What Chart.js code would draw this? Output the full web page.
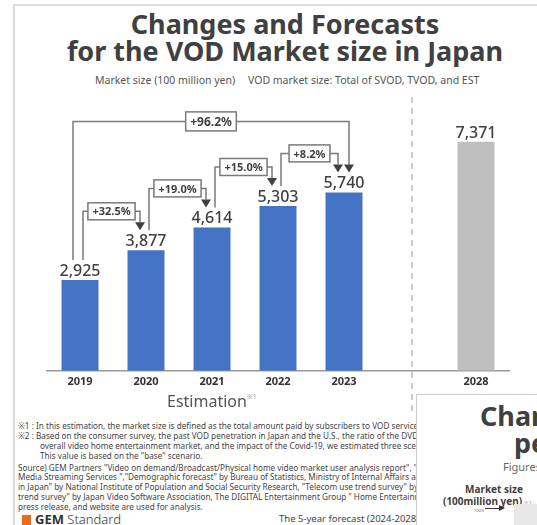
<!DOCTYPE html>
<html>
<head>
<meta charset="utf-8">
<script src="https://cdn.jsdelivr.net/npm/chart.js@4.4.1/dist/chart.umd.min.js"></script>
<style>
  body { margin: 0; width: 537px; height: 525px; overflow: hidden; position: relative; background: #fff;
         font-family: "Noto Sans", sans-serif; color: #404040; }
  .frame { position: absolute; left: 13px; top: 4px; width: 600px; height: 600px; border-left: 2px solid #ddd; border-top: 2px solid #ddd; }
  .title { position: absolute; left: 0; width: 570px; top: 10px; text-align: center; font-weight: 700; font-size: 27px; line-height: 27px; color: #404040; }
  .sub { position: absolute; top: 73px; font-size: 10.5px; color: #555; white-space: nowrap; }
  #chart { position: absolute; left: 0; top: 0; }
  .est { position: absolute; left: 167px; top: 390px; font-size: 16px; color: #555; }
  .est sup { font-size: 7px; color: #999; vertical-align: 8px; }
  .notes { position: absolute; left: 18px; top: 421px; font-size: 8.2px; line-height: 9.9px; color: #444; white-space: nowrap; }
  .notes div { height: 9.9px; }
  .notes .ind { padding-left: 22px; }
  .notes div.gap { height: 2px; }
  .logo { position: absolute; left: 22px; top: 510px; font-size: 13px; color: #333; white-space: nowrap; }
  .logo i { display: inline-block; width: 9px; height: 10px; background: #ee6a1f; vertical-align: -1px; margin-right: 4px; }
  .logo span { font-weight: 300; }
  .fc { position: absolute; left: 279px; top: 512px; font-size: 9.5px; color: #444; white-space: nowrap; }
  .card { position: absolute; left: 416px; top: 394px; width: 200px; height: 200px; background: #fff; border: 1.5px solid #ccc; z-index: 2; }
  .card div { position: absolute; white-space: nowrap; }
</style>
</head>
<body>
<div class="frame"></div>
<div class="title">Changes and Forecasts<br>for the VOD Market size in Japan</div>
<div class="sub" style="left:95px">Market size (100 million yen)</div>
<div class="sub" style="left:248px">VOD market size: Total of SVOD, TVOD, and EST</div>
<canvas id="chart" width="537" height="420"></canvas>
<div class="est">Estimation<sup>※1</sup></div>
<div class="notes">
  <div>※1 : In this estimation, the market size is defined as the total amount paid by subscribers to VOD service providers in Japan.</div>
  <div>※2 : Based on the consumer survey, the past VOD penetration in Japan and the U.S., the ratio of the DVD/BD market to the</div>
  <div class="ind">overall video home entertainment market, and the impact of the Covid-19, we estimated three scenarios: base, upside and downside.</div>
  <div class="ind">This value is based on the "base" scenario.</div>
  <div class="gap"></div>
  <div>Source) GEM Partners "Video on demand/Broadcast/Physical home video market user analysis report", "Brand Survey of</div>
  <div>Media Streaming Services ","Demographic forecast" by Bureau of Statistics, Ministry of Internal Affairs and Communications,</div>
  <div>in Japan" by National Institute of Population and Social Security Research, "Telecom use trend survey" by MIC, "Video software</div>
  <div>trend survey" by Japan Video Software Association, The DIGITAL Entertainment Group "  Home Entertainment Report",</div>
  <div>press release, and website are used for analysis.</div>
</div>
<div class="logo"><i></i><b>GEM</b><span> Standard</span></div>
<div class="fc">The 5-year forecast (2024-2028) of the VOD market</div>
<div class="card">
  <div style="left:63px;top:2px;font-size:27px;font-weight:700;color:#404040">Changes and</div>
  <div style="left:97px;top:29px;font-size:27px;font-weight:700;color:#404040">pe</div>
  <div style="left:86px;top:64px;font-size:11px;color:#666">Figures</div>
  <div style="left:48px;top:87px;font-size:10px;font-weight:700;color:#404040">Market size</div>
  <div style="left:26px;top:99px;font-size:10px;font-weight:700;color:#404040">(100million yen)<span style="font-size:6px;color:#999;font-weight:400"> ※1</span></div>
  <div style="left:57px;top:113px;font-size:4px;color:#666">100%</div>
  <div style="left:68px;top:113px;width:16px;height:1px;background:#333"></div>
  <div style="left:82px;top:110px;width:0;height:0;border-left:6px solid #333;border-top:3px solid transparent;border-bottom:3px solid transparent"></div>
  <div style="left:97px;top:109px;width:40px;height:40px;background:#e8e8e8"></div>
</div>

<script>
// values
const years = ['2019', '2020', '2021', '2022', '2023', '', '2028'];
const marketSize = [2925, 3877, 4614, 5303, 5740, null, 7371];
const forecastYears = ['2028'];

// growth brackets
const growthFrom = ['2019', '2020', '2021', '2022', '2019'];
const growthTo = ['2020', '2021', '2022', '2023', '2023'];
const growthLabels = ['+32.5%', '+19.0%', '+15.0%', '+8.2%', '+96.2%'];

const blue = '#4472c4';
const gray = '#bfbfbf';
const ink = '#404040';

const annotations = {
  id: 'annotations',
  afterDatasetsDraw(chart) {
    const { ctx, scales: { x, y } } = chart;
    const cx = yr => x.getPixelForValue(years.indexOf(yr));
    const top = yr => y.getPixelForValue(marketSize[years.indexOf(yr)]);

    ctx.save();
    // divider between estimation and forecast
    const dx = x.getPixelForValue(5) + 2;
    ctx.strokeStyle = '#999';
    ctx.lineWidth = 1;
    ctx.setLineDash([6, 5]);
    ctx.beginPath();
    ctx.moveTo(dx, 97);
    ctx.lineTo(dx, 415);
    ctx.stroke();
    ctx.setLineDash([]);

    // value labels
    ctx.fillStyle = ink;
    ctx.font = '500 16px "Noto Sans"';
    ctx.textAlign = 'center';
    ctx.textBaseline = 'alphabetic';
    marketSize.forEach((v, i) => {
      if (v == null) return;
      ctx.fillText(v.toLocaleString('en-US'), x.getPixelForValue(i), y.getPixelForValue(v) - 4);
    });

    // growth brackets
    growthLabels.forEach((lab, k) => {
      const a = growthFrom[k], b = growthTo[k];
      const overall = years.indexOf(b) - years.indexOf(a) > 1;
      const xL = overall ? cx(a) - 7 : cx(a) + 3;
      const xR = overall ? cx(b) + 5 : cx(b) - 6;
      const startY = top(a) - 20;
      const tipY = top(b) - 20;
      const level = overall ? tipY - 51 : Math.min(startY, tipY) - 19;

      ctx.strokeStyle = '#7a7a7a';
      ctx.lineWidth = 1.5;
      ctx.beginPath();
      ctx.moveTo(xL, startY);
      ctx.lineTo(xL, level);
      ctx.lineTo(xR, level);
      ctx.lineTo(xR, tipY - 8);
      ctx.stroke();

      ctx.fillStyle = ink;
      ctx.beginPath();
      ctx.moveTo(xR - 5, tipY - 8);
      ctx.lineTo(xR + 5, tipY - 8);
      ctx.lineTo(xR, tipY);
      ctx.closePath();
      ctx.fill();

      ctx.font = (overall ? 'bold 12px' : 'bold 11px') + ' "Noto Sans"';
      const w = ctx.measureText(lab).width + 9;
      const h = overall ? 19 : 17;
      const mx = (xL + xR) / 2;
      ctx.fillStyle = '#fff';
      ctx.fillRect(mx - w / 2, level - h / 2, w, h);
      ctx.strokeRect(mx - w / 2, level - h / 2, w, h);
      ctx.fillStyle = ink;
      ctx.textBaseline = 'middle';
      ctx.fillText(lab, mx, level + 1);
      ctx.textBaseline = 'alphabetic';
    });
    ctx.restore();
  }
};

new Chart(document.getElementById('chart'), {
  type: 'bar',
  data: {
    labels: years,
    datasets: [{
      data: marketSize,
      backgroundColor: c => forecastYears.includes(years[c.dataIndex]) ? gray : blue,
      categoryPercentage: 1,
      barPercentage: 0.56
    }]
  },
  options: {
    responsive: false,
    animation: false,
    devicePixelRatio: 1,
    layout: { padding: { left: 47, right: 28, top: 60, bottom: 28 } },
    plugins: { legend: { display: false }, tooltip: { enabled: false } },
    scales: {
      x: {
        grid: { display: false, drawTicks: false },
        border: { display: true, color: '#999', width: 1.5 },
        ticks: { color: '#333', font: { family: 'Noto Sans', weight: 'bold', size: 11 }, padding: 4 }
      },
      y: { display: false, min: 0, max: 10000 }
    }
  },
  plugins: [annotations]
});
</script>
</body>
</html>
